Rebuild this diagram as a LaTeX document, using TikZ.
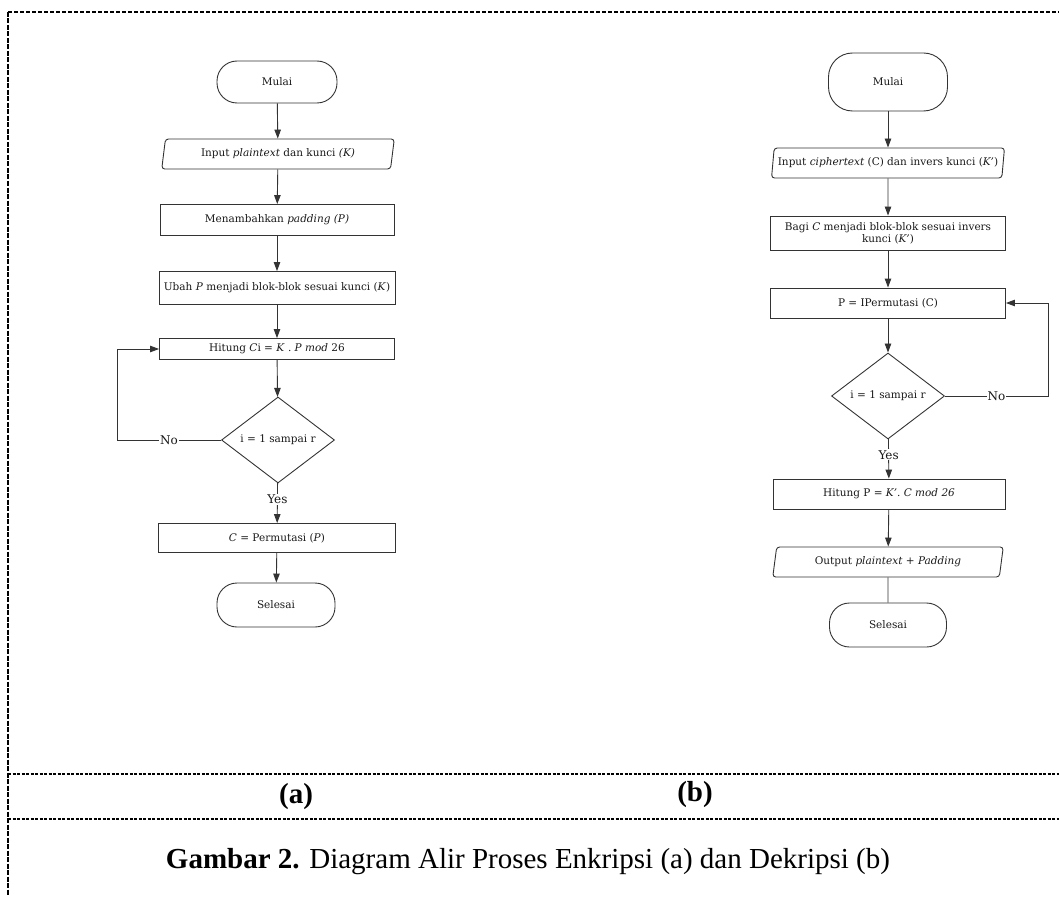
\documentclass[tikz,border=0pt]{standalone}
\usepackage{fontspec}
\setmainfont{DejaVu Serif}
\newfontfamily\capfont{Liberation Serif}
\usetikzlibrary{shapes.geometric,arrows.meta}
\tikzset{
  base/.style={draw=black!80, line width=0.9pt, align=center, inner sep=1pt, font=\fontsize{10.5}{12}\selectfont, text=black!90},
  procbox/.style={base, rectangle, minimum width=#1},
  term/.style={base, rectangle, rounded corners=20pt, minimum width=118, minimum height=44},
  iobox/.style={base, trapezium, trapezium left angle=78, trapezium right angle=102, trapezium stretches=true, rounded corners=3pt, minimum width=233, minimum height=30},
  decide/.style={base, diamond, minimum width=113, minimum height=86, inner sep=0pt},
  flow/.style={draw=black!80, line width=0.9pt, -{Triangle[length=9pt,width=6.5pt]}},
  plain/.style={draw=black!80, line width=0.9pt},
  lbl/.style={fill=white, inner sep=1pt, font=\fontsize{12}{14}\selectfont, text=black!90},
  frame/.style={black, line width=1.4pt, dash pattern=on 4pt off 2pt},
  capt/.style={font=\capfont\fontsize{29}{33}\selectfont}
}
\begin{document}
\begin{tikzpicture}[x=1pt,y=-1pt]
\useasboundingbox (0,0) rectangle (1059,896);
% frame
\coordinate (fTL) at (8,12);
\coordinate (fTR) at (1059,12);
\coordinate (fBL) at (8,896);
\coordinate (m1L) at (8,774);
\coordinate (m1R) at (1059,774);
\coordinate (m2L) at (8,819);
\coordinate (m2R) at (1059,819);
\draw[frame] (fTL) -- (fTR);
\draw[frame, line width=2pt, dash pattern=on 5pt off 1.5pt] (fTL) -- (fBL);
\draw[frame, line width=1.3pt, dash pattern=on 3pt off 1.5pt] (m1L) -- (m1R);
\draw[frame, line width=1.3pt, dash pattern=on 3pt off 1.5pt] (m2L) -- (m2R);

% ---------- (a) ----------
\node[term, minimum width=120, minimum height=42] (a1) at (277,82) {Mulai};
\node[iobox] (a2) at (278,154) {Input \textit{plaintext} dan kunci \textit{(K)}};
\node[procbox=234, minimum height=31] (a3) at (277,220) {Menambahkan \textit{padding (P)}};
\node[procbox=236, minimum height=33] (a4) at (277,288) {Ubah \textit{P} menjadi blok-blok sesuai kunci (\textit{K})};
\node[procbox=235, minimum height=21] (a5) at (277,349) {Hitung \textit{C}i = \textit{K} . \textit{P mod} 26};
\node[decide] (a6) at (278,440) {i = 1 sampai r};
\node[procbox=237, minimum height=29] (a7) at (277,538) {\textit{C} = Permutasi (\textit{P})};
\node[term] (a8) at (276,605) {Selesai};
\coordinate (aL1) at (117,440);
\coordinate (aL2) at (117,349);

\draw[flow] (a1) -- (a2);
\draw[flow] (a2) -- (a3);
\draw[flow] (a3) -- (a4);
\draw[flow] (a4) -- (a5);
\draw[flow] (a5) -- (a6);
\draw[flow] (a6) -- node[lbl, pos=0.4] {Yes} (a7);
\draw[flow] (a7) -- (a8);
\draw[flow] (a6.west) -- node[lbl, pos=0.5] {No} (aL1) -- (aL2) -- (a5.west);

% ---------- (b) ----------
\node[term, minimum width=119, minimum height=58, rounded corners=24pt] (b1) at (888,82) {Mulai};
\node[iobox] (b2) at (888,163) {Input \textit{ciphertext} (C) dan invers kunci (\textit{K'})};
\node[procbox=235, minimum height=34] (b3) at (888,233) {Bagi \textit{C} menjadi blok-blok sesuai invers\\kunci (\textit{K'})};
\node[procbox=235, minimum height=30] (b4) at (888,303) {P = IPermutasi (C)};
\node[decide] (b5) at (888,396) {i = 1 sampai r};
\node[procbox=232, minimum height=30] (b6) at (889,494) {Hitung P = \textit{K'. C mod 26}};
\node[iobox, minimum width=231] (b7) at (888,562) {Output \textit{plaintext + Padding}};
\node[term, minimum width=117] (b8) at (888,625) {Selesai};
\coordinate (bR1) at (1048,396);
\coordinate (bR2) at (1048,303);

\draw[flow] (b1) -- (b2);
\draw[flow] (b2) -- (b3);
\draw[flow] (b3) -- (b4);
\draw[flow] (b4) -- (b5);
\draw[flow] (b5) -- node[lbl, pos=0.4] {Yes} (b6);
\draw[flow] (b6) -- (b7);
\draw[plain] (b7) -- (b8);
\draw[flow] (b5.east) -- node[lbl, pos=0.5] {No} (bR1) -- (bR2) -- (b4.east);

% ---------- captions ----------
\node[capt] (ca) at (296,797) {\textbf{(a)}};
\node[capt] (cb) at (695,795) {\textbf{(b)}};
\node[capt] (cap) at (528,862) {\textbf{Gambar 2.} Diagram Alir Proses Enkripsi (a) dan Dekripsi (b)};
\end{tikzpicture}
\end{document}
